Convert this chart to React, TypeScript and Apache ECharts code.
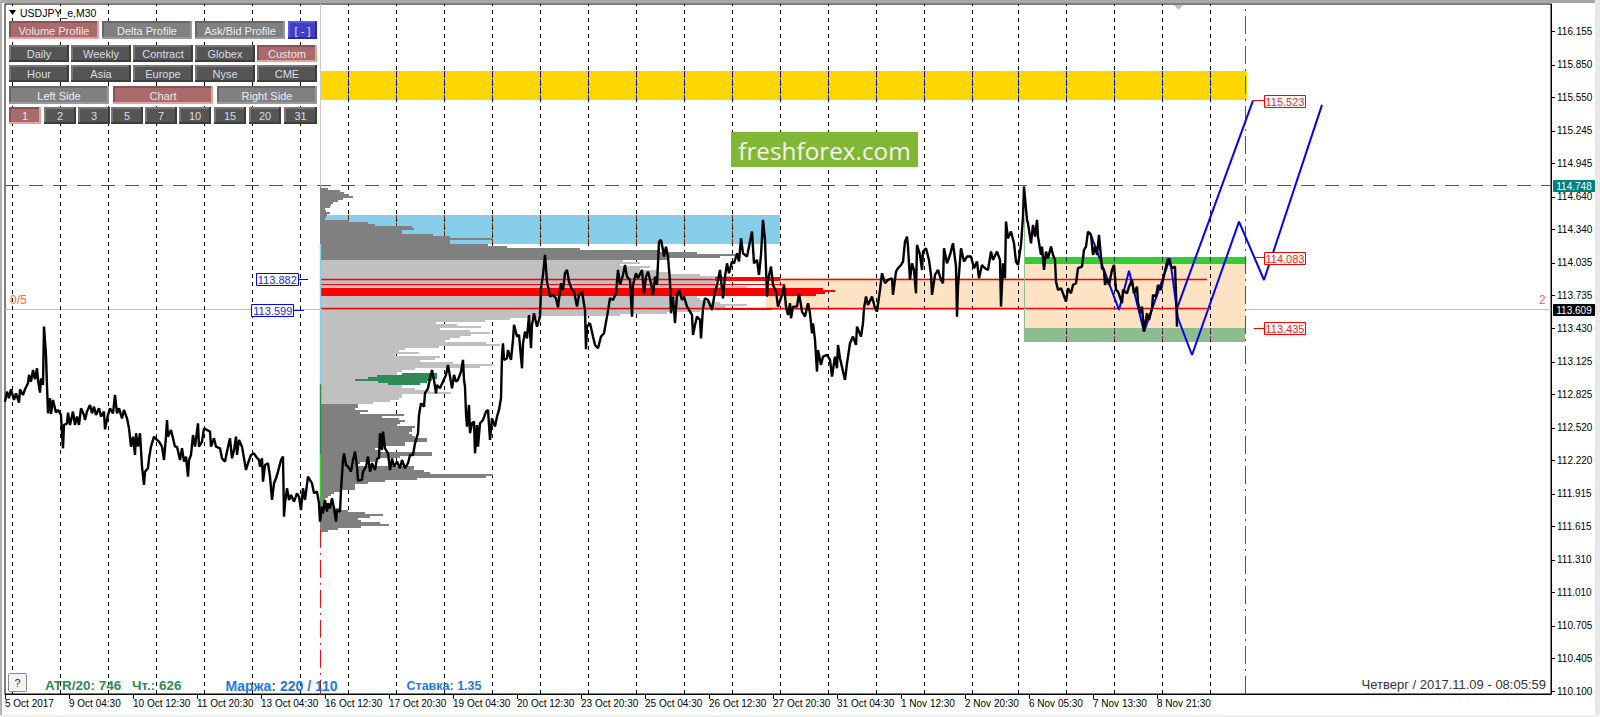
import React, { useEffect, useRef } from "react";
import * as echarts from "echarts";

const chartTitle = "USDJPY_e,M30";
const timeLabels = ["5 Oct 2017","9 Oct 04:30","10 Oct 12:30","11 Oct 20:30","13 Oct 04:30","16 Oct 12:30","17 Oct 20:30","19 Oct 04:30","20 Oct 12:30","23 Oct 20:30","25 Oct 04:30","26 Oct 12:30","27 Oct 20:30","31 Oct 04:30","1 Nov 12:30","2 Nov 20:30","6 Nov 05:30","7 Nov 13:30","8 Nov 21:30"];
const barsPerLabel = 64;
const priceTicks = [116.155,115.85,115.55,115.245,114.945,114.64,114.34,114.035,113.735,113.43,113.125,112.825,112.52,112.22,111.915,111.615,111.31,111.01,110.705,110.405,110.1];
const daySeparators = [7.5,55.5,103.5,151.5,199.5,247.5,295.5,343.5,391.5,439.5,487.5,535.5,583.5,631.5,679.5,727.5,775.5,823.5,871.5,919.5,967.5,1013.5,1061.5,1109.5,1157.5,1205.5];

// [bar, price]
const priceTrace: number[][] = [
[0,112.761],[2,112.853],[4,112.792],[6,112.874],[9,112.777],[11,112.838],[14,112.752],[15,112.874],[18,112.822],[20,112.874],[23,112.929],[24,113.006],[26,112.945],[28,113.052],[30,112.966],[32,113.067],[33,112.96],[35,112.844],[36,112.975],[38,112.914],[39,113.45],[41,113.189],[42,112.899],[43,112.654],[45,112.792],[46,112.648],[48,112.777],[51,112.66],[53,112.685],[56,112.639],[57,112.471],[58,112.333],[59,112.547],[62,112.562],[63,112.66],[65,112.547],[68,112.67],[70,112.547],[72,112.624],[74,112.547],[76,112.7],[79,112.639],[80,112.593],[82,112.67],[85,112.731],[87,112.654],[89,112.715],[91,112.639],[94,112.7],[96,112.624],[99,112.67],[100,112.507],[103,112.639],[105,112.7],[108,112.654],[110,112.822],[112,112.654],[114,112.7],[117,112.608],[119,112.685],[122,112.608],[124,112.517],[126,112.348],[128,112.44],[130,112.272],[131,112.471],[133,112.348],[135,112.471],[136,112.318],[137,112.165],[139,111.997],[140,112.119],[143,112.15],[144,112.241],[146,112.348],[149,112.44],[152,112.41],[154,112.394],[157,112.348],[159,112.226],[161,112.44],[162,112.593],[163,112.44],[166,112.501],[168,112.425],[170,112.348],[172,112.348],[175,112.226],[177,112.333],[179,112.211],[181,112.257],[183,112.073],[184,112.226],[186,112.272],[188,112.455],[190,112.348],[193,112.562],[194,112.348],[197,112.394],[199,112.517],[202,112.501],[205,112.486],[206,112.348],[209,112.425],[211,112.348],[215,112.333],[217,112.241],[220,112.211],[222,112.303],[225,112.425],[227,112.241],[229,112.318],[231,112.44],[232,112.272],[234,112.41],[237,112.348],[239,112.241],[241,112.134],[243,112.196],[246,112.272],[249,112.287],[251,112.257],[254,112.226],[255,112.165],[257,112.241],[258,112.027],[260,112.18],[263,112.196],[265,112.073],[267,111.859],[269,112.012],[271,112.058],[273,112.119],[276,112.226],[278,112.257],[279,111.706],[280,111.828],[282,111.966],[284,111.859],[286,111.905],[289,111.844],[292,111.92],[294,111.89],[296,111.767],[298,111.966],[300,111.859],[303,112.073],[305,112.042],[307,112.012],[309,111.92],[312,111.936],[314,111.828],
[315,111.66],[317,111.798],[318,111.737],[320,111.859],[322,111.752],[323,111.829],[325,111.783],[327,111.874],[329,111.783],[331,111.66],[332,111.767],[335,111.752],[336,111.951],[338,112.226],[339,112.287],[341,112.18],[343,112.165],[346,112.119],[348,112.226],[350,112.303],[352,112.165],[353,112.037],[357,112.043],[358,112.119],[361,112.165],[363,112.257],[365,112.119],[367,112.196],[370,112.134],[372,112.241],[374,112.241],[375,112.471],[377,112.318],[378,112.486],[380,112.333],[383,112.287],[385,112.134],[387,112.241],[389,112.165],[392,112.211],[395,112.15],[397,112.226],[400,112.15],[403,112.196],[405,112.272],[408,112.272],[410,112.379],[413,112.471],[414,112.639],[416,112.746],[419,112.715],[420,112.838],[423,112.884],[425,112.975],[427,113.052],[429,112.96],[431,112.838],[432,112.914],[435,112.884],[438,112.945],[441,113.006],[443,113.098],[445,112.991],[447,112.884],[449,113.006],[451,112.945],[453,112.96],[456,113.037],[458,113.144],[459,112.96],[460,112.899],[461,112.654],[462,112.532],[464,112.731],[465,112.471],[467,112.563],[469,112.578],[470,112.287],[472,112.547],[473,112.348],[475,112.563],[478,112.593],[481,112.67],[483,112.685],[485,112.41],[487,112.608],[490,112.532],[492,112.624],[494,112.685],[496,112.792],[497,113.189],[498,113.296],[499,113.144],[502,113.159],[503,113.235],[506,113.144],[508,113.327],[509,113.465],[512,113.358],[514,113.373],[517,113.067],[518,113.296],[520,113.403],[522,113.342],[524,113.556],[526,113.251],[527,113.465],[529,113.572],[532,113.449],[535,113.541],
[536,113.801],[538,113.923],[540,114.107],[542,113.862],[545,113.725],[548,113.74],[551,113.709],[553,113.627],[556,113.847],[558,113.786],[560,113.939],[562,113.969],[564,113.862],[567,113.786],[569,113.771],[572,113.633],[574,113.74],[577,113.771],[580,113.602],[581,113.242],[582,113.449],[585,113.48],[588,113.358],[590,113.281],[593,113.251],[596,113.358],[599,113.388],[602,113.541],[605,113.709],[608,113.694],[611,113.755],[613,113.969],[615,113.832],[618,113.923],[620,114.015],[622,113.908],[625,113.878],[627,113.541],[628,113.832],[631,113.939],[633,113.893],[637,113.969],[639,113.755],[641,113.908],[643,113.954],[646,113.847],[648,113.74],[650,113.908],[652,113.832],[654,114.229],[656,114.245],[658,114.153],[659,114.092],[661,114.183],[663,114.092],[665,113.862],[666,113.572],[668,113.725],[670,113.48],[672,113.74],[674,113.786],[677,113.694],[679,113.725],[682,113.633],[684,113.602],[687,113.556],[688,113.373],[690,113.465],[692,113.541],[695,113.511],[696,113.342],[698,113.618],[700,113.709],[703,113.694],[707,113.602],[710,113.771],[712,113.832],[715,113.969],[718,113.709],[720,113.908],[722,114.03],[724,113.939],[727,114.046],[729,114.03],[732,114.122],[734,114.046],[736,114.26],[738,114.122],[742,114.092],[747,114.321],[749,114.03],[752,114.061],[754,113.923],[756,114.107],[758,114.428],[760,114.245],[762,113.725],[763,113.878],[766,114],[768,113.832],[771,113.771],[773,113.633],[777,113.74],[779,113.832],[781,113.633],[783,113.556],[785,113.663],
[786,113.526],[788,113.633],[792,113.633],[794,113.755],[797,113.587],[800,113.541],[803,113.664],[805,113.572],[807,113.388],[808,113.48],[810,113.327],[812,113.037],[813,113.235],[816,113.098],[818,113.174],[822,113.19],[825,113.144],[827,112.991],[830,113.174],[832,113.067],[833,113.281],[835,113.159],[838,113.037],[840,112.96],[842,113.113],[845,113.297],[848,113.358],[851,113.281],[852,113.449],[856,113.358],[858,113.48],[859,113.618],[861,113.725],[863,113.648],[867,113.725],[870,113.618],[872,113.587],[875,113.786],[877,113.939],[880,113.847],[883,113.878],[887,113.893],[888,113.74],[891,113.954],[893,113.985],[896,114.015],[898,114.046],[900,114.229],[902,114.275],[903,114.183],[905,113.878],[907,114.03],[909,113.969],[911,113.755],[912,114.199],[915,114.107],[917,113.969],[918,114.138],[921,114.168],[924,114.061],[926,113.923],[927,113.74],[930,113.923],[933,113.969],[936,113.878],[938,113.847],[939,114.168],[942,114.03],[945,114.107],[948,114.214],[951,114],[952,113.541],[953,113.816],[956,114.168],[959,114.046],[962,114.092],[966,114.092],[969,113.985],[972,114.046],[974,113.893],[977,114.015],[980,113.985],[983,113.969],[986,114.138],[988,114.061],[992,114.138],[995,114.061],[996,113.633],[998,114.03],[1000,113.893],[1001,114.413],[1003,114.26],[1006,114.321],[1009,114.214],[1011,114.046],[1013,114.015],[1016,114.199],[1018,114.459],[1019,114.734],
[1022,114.428],[1023,114.397],[1026,114.214],[1028,114.382],[1030,114.275],[1032,114.428],[1033,114.275],[1036,114.107],[1037,114.183],[1039,113.969],[1041,114.138],[1043,114.076],[1046,114.183],[1048,114.107],[1050,114.061],[1051,113.862],[1053,113.786],[1056,113.801],[1058,113.755],[1061,113.679],[1063,113.801],[1066,113.755],[1068,113.832],[1071,113.847],[1073,113.985],[1077,114],[1079,114.153],[1081,114.183],[1083,114.321],[1086,114.29],[1088,114.107],[1090,114.183],[1092,114.107],[1094,114.29],[1097,113.985],[1099,113.969],[1100,113.832],[1102,113.893],[1104,113.832],[1107,113.969],[1109,114.015],[1111,113.786],[1113,113.771],[1117,113.664],[1118,113.786],[1122,113.755],[1124,113.816],[1127,113.878],[1129,113.755],[1132,113.816],[1133,113.664],[1136,113.572],[1137,113.633],[1139,113.404],[1142,113.572],[1144,113.511],[1147,113.618],[1148,113.74],[1151,113.725],[1153,113.832],[1156,113.786],[1158,113.878],[1161,114],[1163,114.076],[1167,113.985],[1170,114],[1171,113.755],[1172,113.449],
];

const forecastLower = [[1085,114.311],[1114,113.602],[1124,113.962],[1139,113.403],[1165,114.076],[1173,113.526],[1187,113.189],[1234,114.412],[1259,113.877],[1317,115.483]];
const forecastUpper = [[1172,113.617],[1248,115.523]];

// Volume profile rows, top to bottom
const profileBarStart = 315;
const profileRowStep = 0.01835;
const profileDarkUpperTop = 114.7395;
const profileDarkUpper = [1,8,20,24,29,33,23,18,13,11,10,5,6,10,7,6,5,29,48,55,92,94,82,82,113,130,172,130,130,168,187,260,340,377,415,400,347];
const profileLightUpperTop = 114.0606;
const profileLightUpper = [303,320,300,330,320,338,350,380,413,393,395,395,395,427];
const profileRedTop = 113.8037;
const profileRed = [503,515,505,496];
const profileLightLowerTop = 113.7303;
const profileLightLower = [377,380,385,400,427,405,400,380,347,300,220,190,165,116,137,161,120,150,170,151,140,130,125,166,180,119,85,79,99,75,120,115,100,133,173,160,95,82,77,77,77,77,77,77,82,82,95,110,131,82,82,79,70,53];
const profileDarkLowerTop = 112.7396;
const profileDarkLower = [38,38,35,48,40,84,62,79,85,80,77,95,92,92,89,92,95,107,107,85,85,60,55,60,112,112,80,57,55,40,38,94,94,104,110,173,166,97,65,48,35,35,35,20,14,11,8,5,4,6,10,14,20,28,45,63,50,38,41,60,69,41,18,8,1];
const valueAreaFrom = [82,57,48,35,58,68];
const valueAreaTo = [117,117,117,112,107,100];
const valueAreaTop = 113.0245;

// Zones: [bar from, bar to, price top, price bottom]
const goldZone = [315,1241.7,115.795,115.531];
const blueZone = [315,775,114.473,114.207];
const bisqueLeft = [761,1019,113.893,113.609];
const bisqueRight = [1019,1240,114.024,113.437];
const limeZone = [1019.5,1240,114.088,114.024];
const sageZone = [1019,1240,113.437,113.308];
const redThickA = [710,775,113.9,113.865];
const redThickB = [710,767,113.622,113.6];

const lastPrice = 113.609;
const highPrice = 114.748;
const upperRedLine = 113.882;
const lowerRedLine = 113.617;
const extraRedLine = 113.838;
const redTags = [[1259,115.523,1248],[1259,114.083,1250],[1259,113.435,1249]];
const blueTags = [[250.8,113.882,293],[246.3,113.599,289]];
const redVerticalMain = 1240.5;
const profileVerticalBar = 315.5;

const btnRow1 = ["Volume Profile","Delta Profile","Ask/Bid Profile","[ - ]"];
const btnRow2 = ["Daily","Weekly","Contract","Globex","Custom"];
const btnRow3 = ["Hour","Asia","Europe","Nyse","CME"];
const btnRow4 = ["Left Side","Chart","Right Side"];
const btnRow5 = ["1","2","3","5","7","10","15","20","31"];

const FONT = '"Liberation Sans", Arial, sans-serif';
const P_TOP = 116.409;
const P_BOT = 110.079;

const rectSeries = (rows: number[][], color: string, z: number) => ({
  type: "custom", coordinateSystem: "cartesian2d", silent: true, z, clip: false,
  data: rows.map((r) => [r[0], r[2]]), encode: { x: 0, y: 1 },
  renderItem: (p: any, api: any) => {
    const r = rows[p.dataIndex];
    const a = api.coord([r[0], r[2]]);
    const b = api.coord([r[1], r[3]]);
    const x0 = Math.round(a[0]), x1 = Math.round(b[0]), y0 = Math.round(a[1]), y1 = Math.round(b[1]);
    return { type: "rect", shape: { x: x0, y: y0, width: x1 - x0, height: Math.max(1, y1 - y0) }, style: { fill: color } };
  },
});

const segSeries = (segs: number[][], color: string, width: number, dash: any, z: number) => ({
  type: "custom", coordinateSystem: "cartesian2d", silent: true, z, clip: false,
  data: segs.map((s) => [s[0], s[1]]), encode: { x: 0, y: 1 },
  renderItem: (p: any, api: any) => {
    const s = segs[p.dataIndex];
    const a = api.coord([s[0], s[1]]);
    const b = api.coord([s[2], s[3]]);
    const snap = (v: number) => Math.round(v - 0.5) + 0.5;
    const horizontal = s[1] === s[3];
    return {
      type: "line",
      shape: horizontal
        ? { x1: a[0], y1: snap(a[1]), x2: b[0], y2: snap(a[1]) }
        : { x1: snap(a[0]), y1: a[1], x2: snap(b[0]), y2: b[1] },
      style: { stroke: color, lineWidth: width, lineDash: dash || undefined, fill: null },
    };
  },
});

const tagSeries = (rows: any[][], w: number, h: number, fill: string, stroke: string, color: string, size: number, z: number) => ({
  type: "custom", coordinateSystem: "cartesian2d", silent: true, z, clip: false,
  data: rows.map((r) => [r[0], r[1]]), encode: { x: 0, y: 1 },
  renderItem: (p: any, api: any) => {
    const r = rows[p.dataIndex];
    const a = api.coord([r[0], r[1]]);
    const y = Math.round(a[1]);
    return {
      type: "group",
      children: [
        { type: "rect", shape: { x: Math.round(a[0]) + 0.5, y: y - Math.floor(h / 2) + 0.5, width: w, height: h }, style: { fill, stroke, lineWidth: 1 } },
        { type: "text", style: { x: a[0] + w / 2 + 0.5, y: y + 1, text: r[1].toFixed(3), fill: color, font: `${size}px ${FONT}`, textAlign: "center", textVerticalAlign: "middle" } },
      ],
    };
  },
});

const profileRows = (top: number, lengths: number[]) =>
  lengths.map((len, i) => [profileBarStart, profileBarStart + len, top - i * profileRowStep, top - (i + 1) * profileRowStep]);

const ghostDashes = (zone: number[], color: string) =>
  segSeries(daySeparators.filter((b) => b >= zone[0] && b <= zone[1]).map((b) => [b, zone[2], b, zone[3]]), color, 1, [4, 4], 3);

type Style = { fill: string; tl: string; br: string; text: string };
const DARK: Style = { fill: "#555555", tl: "#777777", br: "#3d3d3d", text: "#d5dde5" };
const MID: Style = { fill: "#808080", tl: "#666666", br: "#9a9a9a", text: "#e8eef2" };
const ACTIVE: Style = { fill: "#a86a6a", tl: "#8a5252", br: "#e6a0a0", text: "#f4e4e4" };
const BLUE: Style = { fill: "#3f3fc8", tl: "#5a5ae0", br: "#2a2a9a", text: "#e8e8ff" };

const button = (label: string, x0: number, x1: number, y0: number, y1: number, s: Style) => ({
  type: "group", z: 60,
  children: [
    { type: "rect", z: 60, shape: { x: x0, y: y0, width: x1 - x0, height: y1 - y0 }, style: { fill: s.fill } },
    { type: "rect", z: 61, shape: { x: x0, y: y0, width: x1 - x0, height: 2 }, style: { fill: s.tl } },
    { type: "rect", z: 61, shape: { x: x0, y: y0, width: 2, height: y1 - y0 }, style: { fill: s.tl } },
    { type: "rect", z: 61, shape: { x: x0, y: y1 - 2, width: x1 - x0, height: 2 }, style: { fill: s.br } },
    { type: "rect", z: 61, shape: { x: x1 - 2, y: y0, width: 2, height: y1 - y0 }, style: { fill: s.br } },
    { type: "text", z: 62, style: { x: (x0 + x1) / 2, y: (y0 + y1) / 2 + 0.5, text: label, fill: s.text, font: `11px ${FONT}`, textAlign: "center", textVerticalAlign: "middle" } },
  ],
});

const rowSpans = (labels: string[], spans: number[][], y0: number, y1: number, styleOf: (l: string) => Style) =>
  labels.map((l, i) => button(l, spans[i][0], spans[i][1], y0, y1, styleOf(l)));

const label = (text: string, x: number, y: number, font: string, fill: string, align = "left") => ({
  type: "text", z: 55, style: { x, y, text, fill, font, textAlign: align, textVerticalAlign: "middle" },
});

export default function App() {
  const ref = useRef<HTMLDivElement>(null);
  useEffect(() => {
    document.body.style.margin = "0";
    document.body.style.overflow = "hidden";
    const chart = echarts.init(ref.current!, undefined, { renderer: "svg" });

    const spans5 = [[9,69],[71,131],[133,193],[195,255],[257,317]];
    const spans9 = [[9,41],[44,76],[78,110],[111,143],[145,177],[179,211],[214,246],[249,281],[284,317]];

    const graphicEls: any[] = [
      { type: "rect", z: 0, shape: { x: 0, y: 0, width: 1600, height: 3 }, style: { fill: "#a8a8a8" } },
      { type: "rect", z: 0, shape: { x: 0, y: 0, width: 2, height: 717 }, style: { fill: "#b0b0b0" } },
      { type: "rect", z: 0, shape: { x: 1595, y: 0, width: 5, height: 717 }, style: { fill: "#e8e8e8" } },
      { type: "rect", z: 0, shape: { x: 0, y: 715, width: 1600, height: 2 }, style: { fill: "#f0f0f0" } },
      ...rowSpans(btnRow1, [[9,99],[102,192],[195,285],[288,317]], 21, 39, (l) => (l === "Volume Profile" ? ACTIVE : l === "[ - ]" ? BLUE : MID)),
      ...rowSpans(btnRow2, spans5, 45, 62, (l) => (l === "Custom" ? ACTIVE : DARK)),
      ...rowSpans(btnRow3, spans5, 65, 82, () => DARK),
      ...rowSpans(btnRow4, [[9,109],[113,213],[217,317]], 86, 104, (l) => (l === "Chart" ? ACTIVE : MID)),
      ...rowSpans(btnRow5, spans9, 107, 124, (l) => (l === "1" ? ACTIVE : DARK)),
      { type: "polygon", z: 55, shape: { points: [[9,10],[16,10],[12.5,15]] }, style: { fill: "#000" } },
      label(chartTitle, 20, 12.5, `10.5px ${FONT}`, "#000"),
      { type: "rect", z: 55, shape: { x: 731, y: 132, width: 187, height: 35 }, style: { fill: "#80b735" } },
      label("freshforex.com", 824.5, 150, `24.3px "Open Sans", sans-serif`, "#f4f8ee", "center"),
      { type: "polygon", z: 55, shape: { points: [[1174,5],[1183,5],[1178.5,10]] }, style: { fill: "#c0c0c0" } },
      label("0/5", 10, 300, `12px ${FONT}`, "#ff6a30"),
      label("2", 1539, 300, `12px ${FONT}`, "#ff6a30"),
      { type: "rect", z: 55, shape: { x: 8.5, y: 673.5, width: 18, height: 18, r: 1 }, style: { fill: "#f4f4f4", stroke: "#8a8a8a", lineWidth: 1 } },
      label("?", 17.5, 682.5, `11px ${FONT}`, "#333", "center"),
      label("ATR/20: 746", 45, 685.5, `bold 13.5px ${FONT}`, "#2e8b57"),
      label("Чт.: 626", 132, 685.5, `bold 13.5px ${FONT}`, "#2e8b57"),
      label("Маржа: 220 / 110", 225.5, 685.5, `bold 14px ${FONT}`, "#1e78e6"),
      label("Ставка: 1.35", 406.5, 685.5, `bold 12.5px ${FONT}`, "#1e78e6"),
      label("Четверг / 2017.11.09 - 08:05:59", 1546, 684.5, `13px ${FONT}`, "#333", "right"),
    ];

    const option: any = {
      animation: false,
      backgroundColor: "#ffffff",
      tooltip: { show: false },
      grid: { left: 5, right: 49, top: 4, bottom: 23, show: true, borderColor: "#000", borderWidth: 1, backgroundColor: "transparent" },
      xAxis: {
        type: "value", min: 0, max: 1546, interval: barsPerLabel,
        axisLine: { show: true, onZero: false, lineStyle: { color: "#000", width: 1 } },
        axisTick: { show: true, length: 5, lineStyle: { color: "#000" }, customValues: timeLabels.map((_, i) => i * barsPerLabel) },
        splitLine: { show: false },
        axisLabel: {
          show: true, margin: 4, fontSize: 10, fontFamily: FONT, color: "#000", align: "left", hideOverlap: false,
          customValues: timeLabels.map((_, i) => i * barsPerLabel),
          formatter: (v: number) => timeLabels[Math.round(v / barsPerLabel)] ?? "",
        },
      },
      yAxis: {
        type: "value", position: "right", min: P_BOT, max: P_TOP,
        axisLine: { show: true, onZero: false, lineStyle: { color: "#000", width: 1 } },
        axisTick: { show: true, length: 4, lineStyle: { color: "#000" }, customValues: priceTicks },
        splitLine: { show: false },
        axisLabel: {
          show: true, margin: 6, fontSize: 10, fontFamily: FONT, color: "#000", hideOverlap: false,
          customValues: priceTicks,
          formatter: (v: number) => v.toFixed(3),
        },
      },
      graphic: { elements: graphicEls },
      series: [
        segSeries([[0, lastPrice, 1546, lastPrice]], "#c0c0c0", 1, null, 1),
        rectSeries([goldZone], "#ffd700", 2),
        rectSeries([blueZone], "#87ceeb", 2),
        rectSeries([bisqueLeft, bisqueRight], "#fde2c4", 2),
        rectSeries([limeZone], "#32cd32", 2),
        rectSeries([sageZone], "#8fbc8f", 2),
        segSeries(daySeparators.map((b) => [b, P_BOT, b, P_TOP]), "#000", 1, [4, 4], 3),
        ghostDashes(goldZone, "#0020ff"),
        ghostDashes(blueZone, "#7a2a00"),
        ghostDashes(sageZone, "#70307a"),
        ghostDashes(limeZone, "#204040"),
        segSeries([[0, highPrice, 1546, highPrice]], "#007a70", 1, [14, 10], 4),
        rectSeries(profileRows(profileDarkUpperTop, profileDarkUpper), "#808080", 5),
        rectSeries(profileRows(profileLightUpperTop, profileLightUpper), "#c0c0c0", 5),
        rectSeries(profileRows(profileLightLowerTop, profileLightLower), "#c0c0c0", 5),
        rectSeries(profileRows(profileDarkLowerTop, profileDarkLower), "#808080", 5),
        rectSeries(profileRows(profileRedTop, profileRed), "#ff0000", 6),
        rectSeries(valueAreaFrom.map((f, i) => [profileBarStart + f, profileBarStart + valueAreaTo[i], valueAreaTop - i * profileRowStep, valueAreaTop - (i + 1) * profileRowStep]), "#2e8b57", 6),
        rectSeries([redThickA, redThickB], "#ff0000", 6),
        segSeries([[profileBarStart, upperRedLine, 1202, upperRedLine], [profileBarStart, lowerRedLine, 1202, lowerRedLine]], "#ff0000", 1.5, null, 7),
        segSeries([[profileBarStart, extraRedLine, 780, extraRedLine]], "#ff0000", 1, null, 7),
        segSeries([[1019.5, 114.44, 1019.5, 113.437]], "#8fbc8f", 1, null, 7),
        segSeries([[redVerticalMain, P_BOT, redVerticalMain, P_TOP]], "#ee1111", 1, [18, 5, 2, 5], 7),
        segSeries([[profileVerticalBar, 111.585, profileVerticalBar, P_BOT]], "#ee1111", 1, [18, 5, 2, 5], 7),
        segSeries([[profileVerticalBar, P_TOP, profileVerticalBar, 114.74]], "#c8c8c8", 1, null, 7),
        segSeries([[profileVerticalBar, 114.207, profileVerticalBar, 112.92]], "#87ceeb", 1.5, null, 7),
        segSeries([[profileVerticalBar, 112.92, profileVerticalBar, 112.28]], "#2e8b57", 1.5, null, 7),
        segSeries([[profileVerticalBar, 112.28, profileVerticalBar, 111.86]], "#32cd32", 1.5, null, 7),
        {
          type: "line", data: forecastLower, silent: true, showSymbol: false, z: 8, clip: false,
          lineStyle: { color: "#0000ff", width: 2 },
        },
        {
          type: "line", data: forecastUpper, silent: true, showSymbol: false, z: 8, clip: false,
          lineStyle: { color: "#0000ff", width: 2 },
        },
        {
          type: "line", data: priceTrace, silent: true, showSymbol: false, z: 9, sampling: undefined,
          lineStyle: { color: "#000000", width: 2.4 },
        },
        segSeries(redTags.map((t) => [t[2], t[1], t[0], t[1]]), "#ff0000", 1, null, 10),
        segSeries(blueTags.map((t) => [t[0] + 42, t[1], t[2] + 10, t[1]]), "#0000ff", 1, null, 10),
        tagSeries(redTags, 41, 12, "#ffffff", "#ff0000", "#ff2020", 11, 11),
        tagSeries(blueTags, 42, 12, "#ffffff", "#0000ff", "#2020ff", 11, 11),
        tagSeries([[1548, highPrice]], 41, 11, "#008080", "#008080", "#ffffff", 10, 11),
        tagSeries([[1548, lastPrice]], 41, 11, "#000000", "#000000", "#ffffff", 10, 11),
      ],
    };
    chart.setOption(option);
    return () => chart.dispose();
  }, []);
  return <div ref={ref} style={{ width: 1600, height: 717, display: "block" }} />;
}
